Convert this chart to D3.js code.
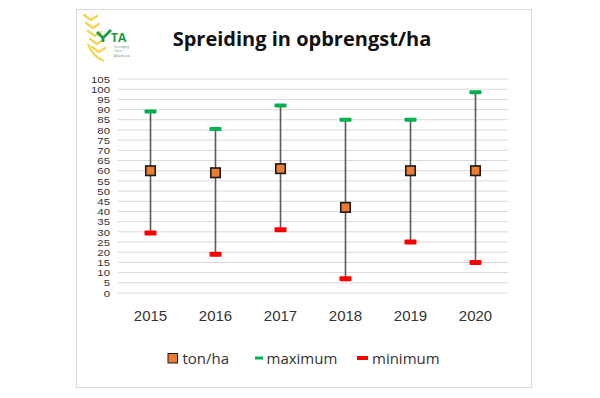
<!DOCTYPE html>
<html>
<head>
<meta charset="utf-8">
<script src="https://cdn.jsdelivr.net/npm/d3@7"></script>
<style>
  body { margin: 0; background: #fff; }
  svg { display: block; font-family: "Open Sans", "Liberation Sans", sans-serif; }
</style>
</head>
<body>
<svg id="chart" width="600" height="398"></svg>
<script>
// data
const years = ['2015', '2016', '2017', '2018', '2019', '2020'];
const average = [60, 59, 61, 42, 60, 60];
const maximum = [89, 80.5, 92, 85, 85, 98.5];
const minimum = [29.5, 19, 31, 7, 25, 15];
const yTicks = d3.range(0, 106, 5);
const legendItems = ['ton/ha', 'maximum', 'minimum'];

const svg = d3.select('#chart');

// chart frame
svg.append('rect')
  .attr('x', 76.5).attr('y', 9.5)
  .attr('width', 455).attr('height', 378)
  .attr('fill', '#fff')
  .attr('stroke', '#d9d9d9');

const x = d3.scaleBand().domain(years).range([118, 508]);
const y = d3.scaleLinear().domain([0, 105]).range([293, 79]);

// gridlines
svg.append('g')
  .selectAll('line')
  .data(yTicks)
  .enter()
  .append('line')
  .attr('x1', 118).attr('x2', 508)
  .attr('y1', d => y(d)).attr('y2', d => y(d))
  .attr('stroke', '#d9d9d9')
  .attr('stroke-width', 1);

// y axis labels (tightly packed, so a small font stretched a bit wider)
const yAxis = svg.append('g')
  .attr('transform', 'translate(110,0)')
  .call(d3.axisLeft(y).tickValues(yTicks).tickSize(0).tickPadding(0));
yAxis.select('.domain').remove();
yAxis.selectAll('text')
  .attr('fill', '#333')
  .attr('dy', '0.36em')
  .attr('transform', 'scale(1.3,1)')
  .style('font-family', '"Liberation Sans", sans-serif')
  .style('font-size', '8.8px');

// x axis labels
const xAxis = svg.append('g')
  .attr('transform', 'translate(0,310)')
  .call(d3.axisBottom(x).tickSize(0).tickPadding(0));
xAxis.select('.domain').remove();
xAxis.selectAll('text')
  .attr('fill', '#333')
  .style('font-size', '15px');

const cx = i => x(years[i]) + x.bandwidth() / 2;

// range lines
svg.append('g')
  .selectAll('line')
  .data(years)
  .enter()
  .append('line')
  .attr('x1', (d, i) => cx(i)).attr('x2', (d, i) => cx(i))
  .attr('y1', (d, i) => y(minimum[i])).attr('y2', (d, i) => y(maximum[i]))
  .attr('stroke', '#595959')
  .attr('stroke-width', 1.6);

// maximum dashes
svg.append('g')
  .selectAll('rect')
  .data(maximum)
  .enter()
  .append('rect')
  .attr('x', (d, i) => cx(i) - 6).attr('y', d => y(d) - 2)
  .attr('width', 12).attr('height', 4)
  .attr('rx', 1)
  .attr('fill', '#00b050');

// minimum dashes
svg.append('g')
  .selectAll('rect')
  .data(minimum)
  .enter()
  .append('rect')
  .attr('x', (d, i) => cx(i) - 6).attr('y', d => y(d) - 2.5)
  .attr('width', 12).attr('height', 5)
  .attr('rx', 1)
  .attr('fill', '#ff0000');

// average squares
svg.append('g')
  .selectAll('rect')
  .data(average)
  .enter()
  .append('rect')
  .attr('x', (d, i) => cx(i) - 4.75).attr('y', d => y(d) - 4.75)
  .attr('width', 9.5).attr('height', 9.5)
  .attr('fill', '#ed7d31')
  .attr('stroke', '#1a1a1a')
  .attr('stroke-width', 1.6);

// title
svg.append('text')
  .attr('x', 302).attr('y', 46)
  .attr('text-anchor', 'middle')
  .attr('fill', '#111')
  .style('font-size', '20px')
  .style('font-weight', 'bold')
  .text('Spreiding in opbrengst/ha');

// logo
const logo = svg.append('g');
[[88, 18], [90, 26], [92, 34], [94, 42], [96, 50]].forEach(([lx, ly]) => {
  logo.append('path')
    .attr('d', `M${lx - 4},${ly - 3} L${lx + 3},${ly + 2} L${lx + 9},${ly - 2}`)
    .attr('fill', 'none')
    .attr('stroke', '#f3d34a')
    .attr('stroke-width', 2.2)
    .attr('stroke-linecap', 'round');
});
logo.append('path')
  .attr('d', 'M88,44 Q92,56 104,61')
  .attr('fill', 'none')
  .attr('stroke', '#f3d34a')
  .attr('stroke-width', 2.2);
logo.append('path')
  .attr('d', 'M97,32 L103,38 L111,30 M103,38 L103,42')
  .attr('fill', 'none')
  .attr('stroke', '#1a9b48')
  .attr('stroke-width', 2.8);
logo.append('text')
  .attr('x', 111).attr('y', 41.5)
  .attr('fill', '#1a9b48')
  .style('font-size', '12px')
  .style('font-weight', 'bold')
  .text('TA');
['Vereniging', 'Telers', 'Akkerbouw'].forEach((t, i) => {
  logo.append('text')
    .attr('x', 114).attr('y', 48 + i * 4.3)
    .attr('fill', '#5f8f6a')
    .style('font-size', '3px')
    .text(t);
});

// legend
const legend = svg.append('g').attr('transform', 'translate(0,358)');
const legendX = [168, 255, 357];
const legendTextX = [182.5, 266.5, 372];
legend.selectAll('text')
  .data(legendItems)
  .enter()
  .append('text')
  .attr('x', (d, i) => legendTextX[i])
  .attr('y', 5.5)
  .attr('fill', '#333')
  .style('font-size', '15px')
  .text(d => d);
legend.append('rect')
  .attr('x', legendX[0]).attr('y', -4.5)
  .attr('width', 9.5).attr('height', 9.5)
  .attr('fill', '#ed7d31').attr('stroke', '#1a1a1a');
legend.append('rect')
  .attr('x', legendX[1]).attr('y', -1.5)
  .attr('width', 8).attr('height', 3)
  .attr('fill', '#00b050');
legend.append('rect')
  .attr('x', legendX[2]).attr('y', -2)
  .attr('width', 11).attr('height', 4)
  .attr('fill', '#ff0000');
</script>
</body>
</html>
